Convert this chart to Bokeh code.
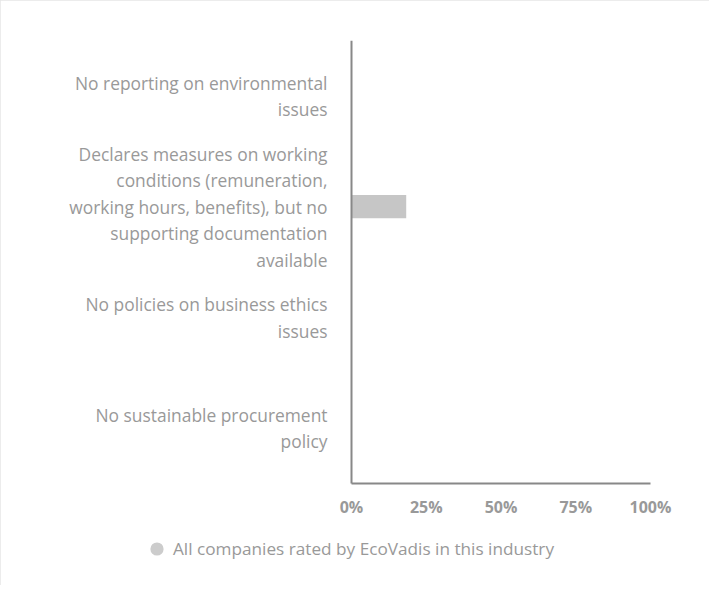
from bokeh.plotting import figure
from bokeh.models import (Range1d, FixedTicker, Legend, LegendItem,
                          ColumnDataSource, LabelSet)
from bokeh.core.properties import value
from bokeh.embed import file_html
from bokeh.resources import INLINE

categories = [
    "No reporting on environmental\nissues",
    "Declares measures on working\nconditions (remuneration,\nworking hours, benefits), but no\nsupporting documentation\navailable",
    "No policies on business ethics\nissues",
    "No sustainable procurement\npolicy",
]
industry_share = [0, 18.3, 0, 0]
x_ticks = [0, 25, 50, 75, 100]
x_tick_labels = ["0%", "25%", "50%", "75%", "100%"]
series_name = "All companies rated by EcoVadis in this industry"

FONT = "Open Sans"
TXT = "#999999"
LINE_PX = 26.5

n = len(categories)
ypos = [n - 1 - i for i in range(n)]          # first category on top

# frame geometry (screen px) used to place the 0..100 axis like the reference
W, H = 709, 585
FL, FR, FT, FB = 10, 10, 40, 26
ax_left, ax_right = 351, 650          # pixel span of 0..100
cat_bottom = 483                      # pixel of lower end of category band
ppu = (ax_right - ax_left) / 100.0
x0 = -(ax_left - FL) / ppu
x1 = 100 + ((W - FR) - ax_right) / ppu
ppc = (cat_bottom - FT) / n
y_top = n - 0.5
y_bot = y_top - (H - FB - FT) / ppc

p = figure(width=W, height=H, output_backend="svg", toolbar_location=None,
           x_range=Range1d(x0, x1), y_range=Range1d(y_bot, y_top),
           min_border_left=FL, min_border_right=FR, min_border_top=FT,
           min_border_bottom=FB)
p.styles = {"outline": "2px solid #e6e6e6", "outline-offset": "-2px"}
p.outline_line_color = None
p.background_fill_color = "white"
p.border_fill_color = "white"
p.grid.visible = False

src = ColumnDataSource(dict(y=ypos, cat=categories, val=industry_share))
p.hbar(y="y", right="val", left=0, height=0.21, source=src,
       fill_color="#c6c6c6", line_color=None)

# vertical category axis line at x = 0
p.yaxis.fixed_location = 0
p.yaxis.bounds = (-0.5, n - 0.5)
p.yaxis.ticker = FixedTicker(ticks=[])
p.yaxis.major_label_text_font_size = "0px"
p.yaxis.major_tick_line_color = None
p.yaxis.minor_tick_line_color = None
p.yaxis.axis_line_color = "#888888"
p.yaxis.axis_line_width = 2
p.yaxis.major_label_standoff = 0

# category labels, one row per wrapped line, each right-aligned
ly, lt, lo = [], [], []
for yy, cat in zip(ypos, categories):
    parts = cat.split("\n")
    for j, part in enumerate(parts):
        ly.append(yy)
        lt.append(part)
        lo.append(((len(parts) - 1) / 2 - j) * LINE_PX)
lsrc = ColumnDataSource(dict(y=ly, text=lt, yoff=lo))
labels = LabelSet(x=0, y="y", text="text", source=lsrc, x_offset=-24,
                  y_offset="yoff", text_align="right", text_baseline="middle",
                  text_font=value(FONT), text_font_size="17.4px",
                  text_color=TXT)
p.add_layout(labels)

p.xaxis.fixed_location = -0.5
p.xaxis.bounds = (0, 100)
p.xaxis.ticker = FixedTicker(ticks=x_ticks)
p.xaxis.major_label_overrides = {t: l for t, l in zip(x_ticks, x_tick_labels)}
p.xaxis.major_tick_line_color = None
p.xaxis.minor_tick_line_color = None
p.xaxis.axis_line_color = "#888888"
p.xaxis.axis_line_width = 2
p.xaxis.major_label_text_font = FONT
p.xaxis.major_label_text_font_size = "16px"
p.xaxis.major_label_text_font_style = "bold"
p.xaxis.major_label_text_color = TXT
p.xaxis.major_label_standoff = 6

# legend symbol: renderer with no drawable point (NaN), used only for the key
dummy = p.scatter(x=[float("nan")], y=[float("nan")], marker="circle", size=14,
                  fill_color="#cccccc", line_color=None)
legend = Legend(items=[LegendItem(label=series_name, renderers=[dummy])],
                location=(130, -5.5), orientation="horizontal",
                label_text_font=FONT, label_text_font_size="17.2px",
                label_text_color=TXT, glyph_width=33, glyph_height=33,
                label_standoff=0, border_line_color=None,
                background_fill_alpha=0, margin=0, padding=0)
p.add_layout(legend)

open("out.html", "w").write(file_html(p, INLINE))
